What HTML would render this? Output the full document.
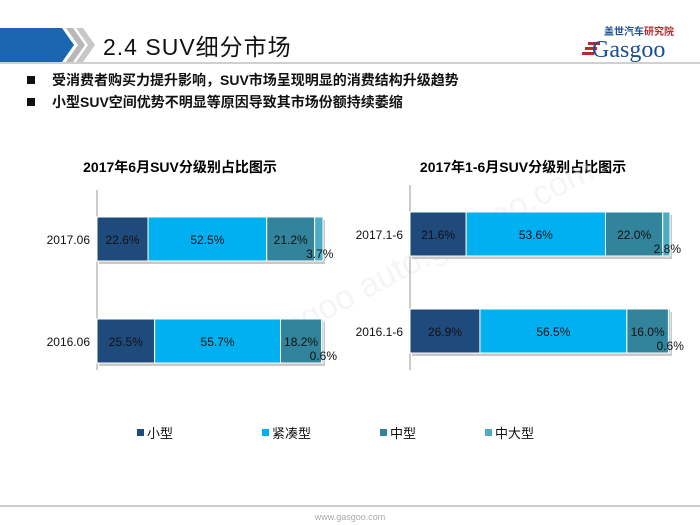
<!DOCTYPE html>
<html><head><meta charset="utf-8"><style>
body{margin:0;width:700px;height:525px;background:#fff;overflow:hidden;font-family:"Liberation Sans","Noto Sans CJK SC",sans-serif}
svg{display:block}
</style></head><body>
<svg width="700" height="525" xmlns="http://www.w3.org/2000/svg">
<g>
<polygon points="0,28 62,28 74,45 62,62 0,62" fill="#1b66b0"/>
<polygon points="66,28 73,28 85,45 73,62 66,62 78,45" fill="#b8b8b8"/>
<polygon points="76,28 83,28 95,45 83,62 76,62 88,45" fill="#c8c8c8"/>
<line x1="0" y1="63" x2="700" y2="63" stroke="#d0d0d0" stroke-width="2"/>
<text x="103" y="55" font-size="23" fill="#111" font-family="Liberation Sans Narrow, Liberation Sans, Noto Sans CJK SC, sans-serif" letter-spacing="1">2.4  SUV细分市场</text>
<g>
<text x="604" y="35" font-size="10" fill="#1b4f8f" font-weight="bold">盖世汽车<tspan fill="#c0272d">研究院</tspan></text>
<rect x="588" y="42" width="12" height="3" fill="#c0272d"/><rect x="585" y="47" width="12" height="3" fill="#c0272d"/><rect x="582" y="52" width="12" height="3" fill="#c0272d"/>
<text x="592" y="57" font-size="24" fill="#1b4f8f" font-family="Liberation Serif">Gasgoo</text>
</g>
</g>
<g font-size="14" font-weight="bold" fill="#111">
<rect x="27" y="76" width="8" height="8" fill="#111"/>
<text x="52" y="85">受消费者购买力提升影响，SUV市场呈现明显的消费结构升级趋势</text>
<rect x="27" y="98" width="8" height="8" fill="#111"/>
<text x="52" y="107">小型SUV空间优势不明显等原因导致其市场份额持续萎缩</text>
</g>
<text x="180" y="172" font-size="14" font-weight="bold" text-anchor="middle">2017年6月SUV分级别占比图示</text>
<text x="523" y="172" font-size="14" font-weight="bold" text-anchor="middle">2017年1-6月SUV分级别占比图示</text>
<text x="230" y="330" font-size="34" fill="#e4e4e4" opacity="0.35" transform="rotate(-28 300 300)">Gasgoo auto.gasgoo.com</text>
<g id="charts"></g>
<g font-size="13" fill="#111">
<rect x="137" y="429" width="7" height="7" fill="#1f4a7c"/><text x="147" y="438">小型</text>
<rect x="262" y="429" width="7" height="7" fill="#00b0f0"/><text x="272" y="438">紧凑型</text>
<rect x="380" y="429" width="7" height="7" fill="#31849b"/><text x="390" y="438">中型</text>
<rect x="485" y="429" width="7" height="7" fill="#4bacc6"/><text x="495" y="438">中大型</text>
</g>
<line x1="0" y1="506" x2="700" y2="506" stroke="#bbb" stroke-width="1.5"/>
<text x="350" y="520" font-size="9" fill="#aaa" text-anchor="middle">www.gasgoo.com</text>
</svg>
<script>
const leftCategories=["2017.06","2016.06"];
const leftValues=[[22.6,52.5,21.2,3.7],[25.5,55.7,18.2,0.6]];
const rightCategories=["2017.1-6","2016.1-6"];
const rightValues=[[21.6,53.6,22.0,2.8],[26.9,56.5,16.0,0.6]];
const colors=["#1f4a7c","#00b0f0","#31849b","#4bacc6"];
const NS="http://www.w3.org/2000/svg";
const g=document.getElementById('charts');
function mk(t,a){const e=document.createElementNS(NS,t);for(const k in a)e.setAttribute(k,a[k]);g.appendChild(e);return e;}
function chart(cats,vals,x0,w,ys,h,labX,axTop,axBot){
  const ax=mk('line',{x1:x0,y1:axTop,x2:x0,y2:axBot,stroke:'#999'});
  
  
  const sx=v=>v/100*w;
  cats.forEach((c,i)=>{
    const y=ys[i];
    const t=mk('text',{x:labX,y:y+h/2+5,'font-size':12,'text-anchor':'end',fill:'#111'});t.textContent=c;
    
    
    const total=vals[i].reduce((a,b)=>a+b,0);
    const sh=mk('rect',{x:x0+2,y:y+3,width:sx(total),height:h,fill:'#c8c8c8'});
    
    
    let acc=0;
    vals[i].forEach((v,j)=>{
      const r=mk('rect',{x:x0+sx(acc),y:y,width:sx(v),height:h,fill:colors[j],stroke:'#fff','stroke-width':1});
      
      
      const tx= j===3 ? x0+sx(acc)+sx(v)/2+1 : x0+sx(acc)+sx(v)/2;
      const ty= j===3 ? y+h-3 : y+h/2+5;
      const lt=mk('text',{x:tx,y:ty,'font-size':12,'text-anchor':'middle',fill:'#111'});
      lt.textContent=v.toFixed(1)+'%';
      
      
      acc+=v;
    });
  });
}
chart(leftCategories,leftValues,97,226,[217,319],44,90,190,370);
chart(rightCategories,rightValues,410,260,[212,309],44,403,185,370);
</script>
</body></html>
